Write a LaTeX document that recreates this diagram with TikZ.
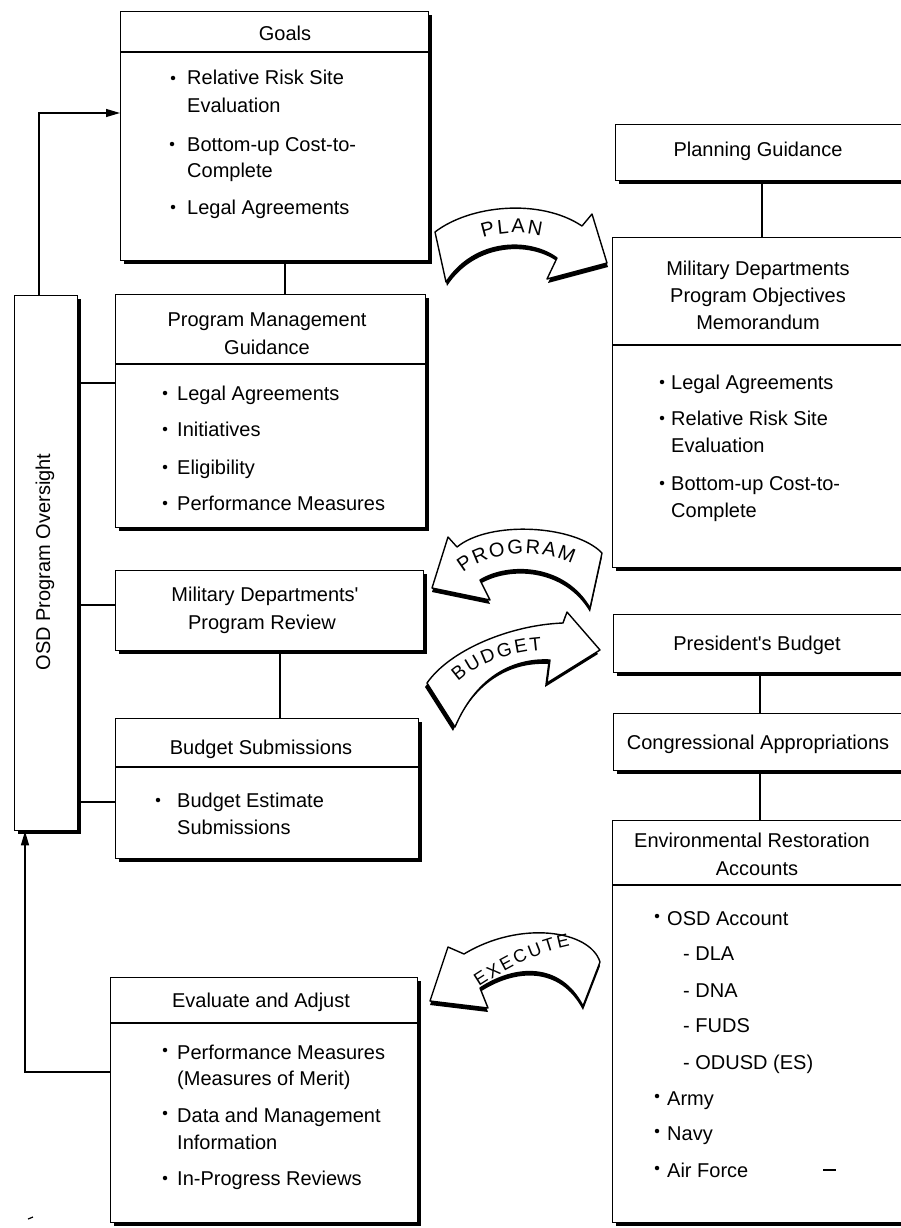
\documentclass[tikz,border=0pt]{standalone}
\usepackage{fontspec}
\setmainfont{Liberation Sans}
\usetikzlibrary{arrows.meta,shadows,decorations.text,calc}
\tikzset{
 box/.style={draw, line width=1.3pt, fill=white, inner sep=0pt, anchor=north west,
   drop shadow={shadow xshift=3pt, shadow yshift=-3pt, fill=black, opacity=1}},
 tl/.style={anchor=base west, inner sep=0pt, font=\fontsize{20}{24}\selectfont},
 tc/.style={anchor=base, inner sep=0pt, font=\fontsize{20}{24}\selectfont},
 bul/.style={circle, fill=black, inner sep=0pt, minimum size=4.5pt},
 conn/.style={line width=1.2pt},
 arr/.style={line width=1.2pt, -{Triangle[length=14pt,width=8pt]}},
 ribbon/.style={fill=white, draw=black, line width=1.4pt, line join=round},
 ribshadow/.style={fill=black},
 planp/.style={insert path={(435,232) .. controls (470,205) and (540,198) .. (582,226) -- (592,214) -- (607,263) -- (547,279) -- (557,258) .. controls (530,238) and (475,238) .. (446,282) -- cycle}},
 progp/.style={insert path={(602,553) .. controls (575,525) and (490,520) .. (457,547) -- (448,537) -- (432,588) -- (490,600) -- (480,580) .. controls (510,562) and (565,565) .. (590,608) -- cycle}},
 budgp/.style={insert path={(427,683) .. controls (450,650) and (510,625) .. (563,623) -- (567,612) -- (600,650) -- (547,683) -- (550,660) .. controls (510,658) and (475,680) .. (455,727) -- cycle}},
 execp/.style={insert path={(600,962) .. controls (590,930) and (520,920) .. (464,954) -- (448,947) -- (430,1001) -- (488,1008) -- (480,988) .. controls (515,965) and (560,962) .. (583,1006) -- cycle}},
}
\newcommand\Tl[4]{\node[tl] (#1) at (#2,#3+7) {#4};}
\newcommand\Tc[4]{\node[tc] (#1) at (#2,#3+7) {#4};}
\newcommand\Bu[3]{\node[bul] (#1) at (#2,#3) {};}
\newcommand\Dv[2]{\draw[line width=1.2pt] ([yshift=-#2pt]#1.north west) -- ([yshift=-#2pt]#1.north east);}
\newcommand\RibText[3]{\path[decorate, decoration={text along path, text={|\fontsize{#1}{#1}\selectfont|#2}, text align=fit to path}] #3;}
\begin{document}
\begin{tikzpicture}[x=1pt,y=-1pt]
\useasboundingbox (0,0) rectangle (901,1228);
\fill[white] (0,0) rectangle (901,1228);

% left column boxes
\node[box, minimum width=308pt, minimum height=249pt] (goals) at (120,11) {};
\Dv{goals}{41}
\node[box, minimum width=310pt, minimum height=233pt] (pmg) at (115,294) {};
\Dv{pmg}{70}
\node[box, minimum width=308pt, minimum height=80pt] (mdpr) at (115,570) {};
\node[box, minimum width=303pt, minimum height=140pt] (bs) at (115,718) {};
\Dv{bs}{49}
\node[box, minimum width=307pt, minimum height=245pt] (ea) at (110,977) {};
\Dv{ea}{46}
\node[box, minimum width=63pt, minimum height=535pt] (osd) at (14,295) {};

% right column boxes
\node[box, minimum width=290pt, minimum height=56pt] (pg) at (615,124) {};
\node[box, minimum width=293pt, minimum height=330pt] (mdpom) at (612,237) {};
\Dv{mdpom}{108}
\node[box, minimum width=292pt, minimum height=58pt] (pb) at (613,614) {};
\node[box, minimum width=292pt, minimum height=57pt] (ca) at (613,713) {};
\node[box, minimum width=293pt, minimum height=402pt] (era) at (612,820) {};
\Dv{era}{65}

% connectors
\coordinate (cx1) at (285,0);
\draw[conn] (cx1 |- goals.south) -- (cx1 |- pmg.north);
\coordinate (cx2) at (280,0);
\draw[conn] (cx2 |- mdpr.south) -- (cx2 |- bs.north);
\coordinate (cx3) at (762,0);
\draw[conn] (cx3 |- pg.south) -- (cx3 |- mdpom.north);
\coordinate (cx4) at (760,0);
\draw[conn] (cx4 |- pb.south) -- (cx4 |- ca.north);
\draw[conn] (cx4 |- ca.south) -- (cx4 |- era.north);
\coordinate (ry1) at (0,383);
\draw[conn] (ry1 -| osd.east) -- (ry1 -| pmg.west);
\coordinate (ry2) at (0,605);
\draw[conn] (ry2 -| osd.east) -- (ry2 -| mdpr.west);
\coordinate (ry3) at (0,802);
\draw[conn] (ry3 -| osd.east) -- (ry3 -| bs.west);
\coordinate (cx0) at (39,0);
\coordinate (ry0) at (0,113);
\draw[arr] (cx0 |- osd.north) |- (ry0 -| goals.west);
\coordinate (cx9) at (25,0);
\coordinate (ry9) at (0,1072);
\draw[arr] (ry9 -| ea.west) -| (cx9 |- osd.south);

% ribbon arrows
\fill[ribshadow, xshift=1pt, yshift=-4pt, planp];
\draw[ribbon, planp];
\RibText{20}{PLAN}{(483,238) .. controls (500,232) and (522,231) .. (541,236)}
\fill[ribshadow, yshift=-4pt, progp];
\draw[ribbon, progp];
\RibText{20}{PROGRAM}{(463,573) .. controls (490,550) and (540,548) .. (572,564)}
\fill[ribshadow, xshift=-2pt, yshift=-4pt, budgp];
\draw[ribbon, budgp];
\RibText{19}{BUDGET}{(458,682) .. controls (478,664) and (505,653) .. (542,650)}
\fill[ribshadow, yshift=-4pt, execp];
\draw[ribbon, execp];
\RibText{18}{EXECUTE}{(479,987) .. controls (505,970) and (535,953) .. (570,946)}

% texts: Goals
\Tc{goalsH}{285}{34}{Goals}
\Bu{gb1}{173}{78}\Tl{g1}{187}{78}{Relative Risk Site}
\Tl{g1b}{187}{106}{Evaluation}
\Bu{gb2}{172}{144}\Tl{g2}{187}{144}{Bottom-up Cost-to-}
\Tl{g2b}{187}{170}{Complete}
\Bu{gb3}{173}{207}\Tl{g3}{187}{207}{Legal Agreements}

% Program Management Guidance
\Tc{pmgH1}{267}{319}{Program Management}
\Tc{pmgH2}{267}{347}{Guidance}
\Bu{pb1}{165}{393}\Tl{p1}{177}{393}{Legal Agreements}
\Bu{pb2}{165}{429}\Tl{p2}{177}{429}{Initiatives}
\Bu{pb3}{165}{467}\Tl{p3}{177}{467}{Eligibility}
\Bu{pb4}{165}{503}\Tl{p4}{177}{503}{Performance Measures}

% Military Departments' Program Review
\Tc{mdH1}{265}{594}{Military Departments\textquotesingle}
\Tc{mdH2}{262}{622}{Program Review}

% Budget Submissions
\Tc{bsH}{261}{747}{Budget Submissions}
\Bu{bsb}{158}{800}\Tl{bs1}{177}{800}{Budget Estimate}
\Tl{bs2}{177}{827}{Submissions}

% Evaluate and Adjust
\Tc{eaH}{261}{1000}{Evaluate and Adjust}
\Bu{eb1}{165}{1050}\Tl{e1}{177}{1052}{Performance Measures}
\Tl{e1b}{177}{1078}{(Measures of Merit)}
\Bu{eb2}{165}{1113}\Tl{e2}{177}{1115}{Data and Management}
\Tl{e2b}{177}{1142}{Information}
\Bu{eb3}{165}{1178}\Tl{e3}{177}{1178}{In-Progress Reviews}

% OSD
\node[rotate=90, inner sep=0pt, font=\fontsize{20}{24}\selectfont] (osdT) at (45,562) {OSD Program Oversight};

% Right column texts
\Tc{pgH}{758}{150}{Planning Guidance}
\Tc{mpH1}{758}{268}{Military Departments}
\Tc{mpH2}{758}{295}{Program Objectives}
\Tc{mpH3}{758}{322}{Memorandum}
\Bu{mb1}{662}{382}\Tl{m1}{671}{382}{Legal Agreements}
\Bu{mb2}{662}{418}\Tl{m2}{671}{418}{Relative Risk Site}
\Tl{m2b}{671}{445}{Evaluation}
\Bu{mb3}{662}{483}\Tl{m3}{671}{483}{Bottom-up Cost-to-}
\Tl{m3b}{671}{510}{Complete}
\Tc{pbH}{757}{643}{President\textquotesingle s Budget}
\Tc{caH}{758}{742}{Congressional Appropriations}
\Tc{eraH1}{752}{840}{Environmental Restoration}
\Tc{eraH2}{757}{868}{Accounts}
\Bu{rb1}{657}{916}\Tl{r1}{667}{918}{OSD Account}
\Tl{r2}{683}{953}{- DLA}
\Tl{r3}{683}{990}{- DNA}
\Tl{r4}{683}{1025}{- FUDS}
\Tl{r5}{683}{1062}{- ODUSD (ES)}
\Bu{rb6}{657}{1096}\Tl{r6}{667}{1098}{Army}
\Bu{rb7}{657}{1131}\Tl{r7}{667}{1133}{Navy}
\Bu{rb8}{657}{1168}\Tl{r8}{667}{1170}{Air Force}

% stray marks
\draw[line width=1.5pt] (823,1170) -- (836,1170);
\draw[line width=1.2pt] (28,1219) -- (33,1217);
\end{tikzpicture}
\end{document}
